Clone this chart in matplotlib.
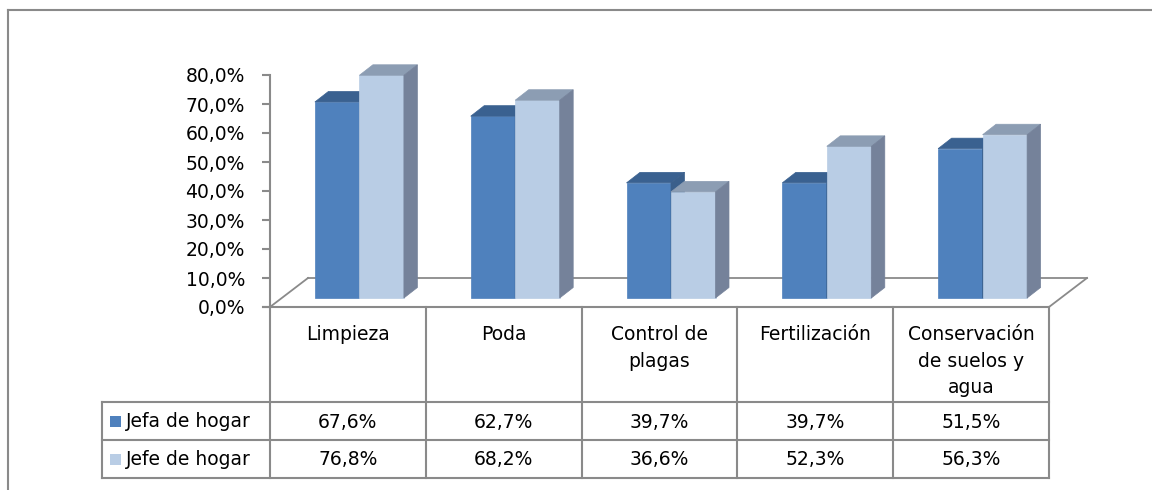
import matplotlib
matplotlib.use('Agg')
import matplotlib.pyplot as plt
from matplotlib.patches import Polygon, Rectangle

# data
categories = ['Limpieza', 'Poda', 'Control de\nplagas', 'Fertilización',
              'Conservación\nde suelos y\nagua']
series_names = ['Jefa de hogar', 'Jefe de hogar']
jefa = [67.6, 62.7, 39.7, 39.7, 51.5]
jefe = [76.8, 68.2, 36.6, 52.3, 56.3]
yticks = [0, 10, 20, 30, 40, 50, 60, 70, 80]

# colours: front, top, side
colors = [('#4F81BD', '#3A6190', '#3A5F8B'),
          ('#B9CDE5', '#8C9DB3', '#75829A')]
gray = '#8A8A8A'

plt.rcParams['font.family'] = ['DejaVu Sans']
fs = 13.5

W, H = 1152, 490
fig = plt.figure(figsize=(W / 100, H / 100), dpi=100)

# layout in pixels
x0, x1 = 270, 1049
y0, y80 = 307, 75
colw = (x1 - x0) / len(categories)

bg = fig.add_axes([0, 0, 1, 1], zorder=0)
bg.set_xlim(0, W)
bg.set_ylim(H, 0)
bg.axis('off')

ax = fig.add_axes([x0 / W, 1 - y0 / H, (x1 - x0) / W, (y0 - y80) / H], zorder=1)
ax.patch.set_alpha(0)
ax.set_xlim(0, len(categories))
ax.set_ylim(0, 80)
ppx = colw            # pixels per x unit
ppy = (y0 - y80) / 80  # pixels per percent

# floor (3d depth)
fdx, fdy = 38 / ppx, 29 / ppy
n = len(categories)
floor_kw = dict(color=gray, lw=1.3, clip_on=False, zorder=1)
ax.plot([0, fdx], [0, fdy], **floor_kw)
ax.plot([fdx, n + fdx], [fdy, fdy], **floor_kw)
ax.plot([n, n + fdx], [0, fdy], **floor_kw)

# bars
bw = 44.5 / ppx
shift = 11.5 / ppx
base = 9 / ppy
bdx, bdy = 13.5 / ppx, 10.5 / ppy


def bar3d(xl, h, cols):
    front, top, side = cols
    b = base
    t = base + h
    xr = xl + bw
    polys = [
        ([(xl, b), (xr, b), (xr, t), (xl, t)], front),
        ([(xl, t), (xr, t), (xr + bdx, t + bdy), (xl + bdx, t + bdy)], top),
        ([(xr, b), (xr + bdx, b + bdy), (xr + bdx, t + bdy), (xr, t)], side),
    ]
    for pts, c in polys:
        ax.add_patch(Polygon(pts, closed=True, facecolor=c, edgecolor=c,
                             lw=0.5, clip_on=False, zorder=2))


for i in range(n):
    c = i + 0.5 + shift
    bar3d(c - bw, jefa[i], colors[0])
    bar3d(c, jefe[i], colors[1])

# y axis
for s in ['top', 'right', 'bottom']:
    ax.spines[s].set_visible(False)
ax.spines['left'].set_color(gray)
ax.spines['left'].set_linewidth(1.5)
ax.set_xticks([])
ax.set_yticks(yticks)
ax.set_yticklabels([f'{v:.1f}%'.replace('.', ',') for v in yticks])
ax.tick_params(axis='y', length=6, width=1.5, color=gray, pad=12, labelsize=fs)

# outer frame
line_kw = dict(color=gray, lw=1.5)
bg.plot([8, 8], [10, H + 5], **line_kw)
bg.plot([8, W + 5], [10, 10], **line_kw)

# data table
r0, r1, r2, r3 = y0, 402, 440, 478
lx = 102
bg.plot([263, x1], [r0, r0], **line_kw)
for k in range(n + 1):
    xx = x0 + k * colw
    bg.plot([xx, xx], [r0, r3], **line_kw)
for yy in [r1, r2, r3]:
    bg.plot([lx, x1], [yy, yy], **line_kw)
bg.plot([lx, lx], [r1, r3], **line_kw)

for i, cat in enumerate(categories):
    cx = x0 + (i + 0.5) * colw
    bg.text(cx, 325, cat, ha='center', va='top', linespacing=1.5, fontsize=fs)
    bg.text(cx, (r1 + r2) / 2 + 1, f'{jefa[i]:.1f}%'.replace('.', ','),
            ha='center', va='center', fontsize=fs)
    bg.text(cx, (r2 + r3) / 2, f'{jefe[i]:.1f}%'.replace('.', ','),
            ha='center', va='center', fontsize=fs)

for j, (name, yc) in enumerate(zip(series_names, [(r1 + r2) / 2, (r2 + r3) / 2])):
    bg.add_patch(Rectangle((110, yc - 5.5), 11, 11, facecolor=colors[j][0],
                           edgecolor='none'))
    bg.text(126, yc, name, ha='left', va='center', fontsize=fs)

fig.savefig('out.png', dpi=100)
